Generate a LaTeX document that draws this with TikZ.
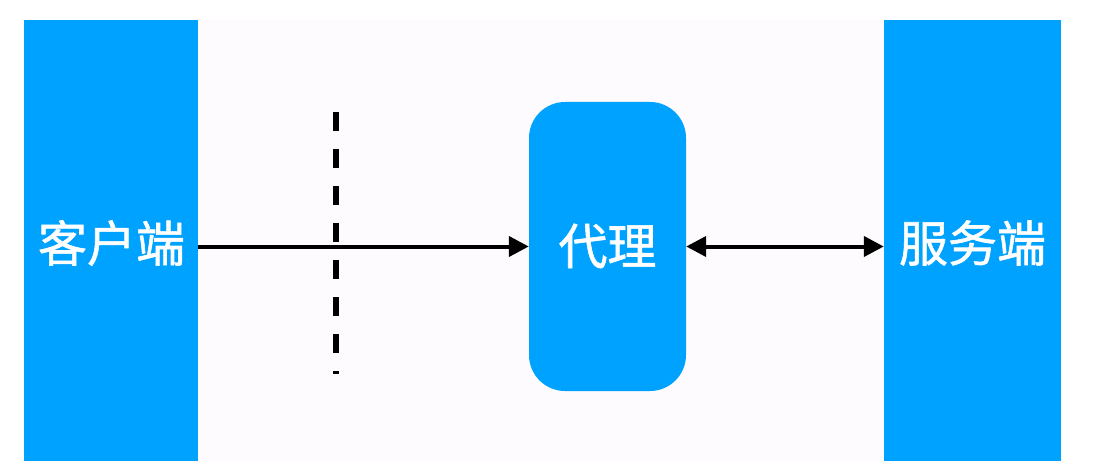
\documentclass[tikz,border=0pt]{standalone}
\usepackage{fontspec}
\newfontfamily\cjk[FakeBold=1.2]{Noto Sans CJK SC}
\usetikzlibrary{arrows.meta}
\definecolor{boxblue}{RGB}{0,162,255}
\definecolor{panel}{RGB}{253,251,253}
\tikzset{
  block/.style={fill=boxblue, draw=none, inner sep=0pt, anchor=center},
  label/.style={text=white, font=\cjk\fontsize{49}{52}\selectfont, inner sep=0pt},
  conn/.style={line width=4pt, draw=black},
  tip/.style={-{Triangle[length=20pt,width=20pt]}},
  dtip/.style={{Triangle[length=20pt,width=20pt]}-{Triangle[length=20pt,width=20pt]}},
}
\begin{document}
\begin{tikzpicture}[x=1pt,y=-1pt]
\useasboundingbox (0,0) rectangle (1106,468);
\fill[white] (0,0) rectangle (1106,468);
\fill[panel] (24,20) rectangle (1062,461);
\node[block, minimum width=174pt, minimum height=441pt] (client) at (111,240.5) {};
\node[label] (clientlabel) at (111.5,243) {客户端};
\node[block, minimum width=177pt, minimum height=441pt] (server) at (972.5,240.5) {};
\node[label] (serverlabel) at (972.5,243) {服务端};
\node[block, minimum width=157pt, minimum height=289pt, rounded corners=36pt] (proxy) at (607.5,246.5) {};
\node[label] (proxylabel) at (607.5,246) {代理};
\coordinate (dtop) at (336,112);
\coordinate (dbot) at (336,374);
\draw[line width=6pt, dash pattern=on 19pt off 18pt] (dtop) -- (dbot);
\draw[conn, tip] (client.east |- proxy.west) -- (proxy.west);
\draw[conn, dtip] (proxy.east) -- (server.west |- proxy.east);
\end{tikzpicture}
\end{document}
